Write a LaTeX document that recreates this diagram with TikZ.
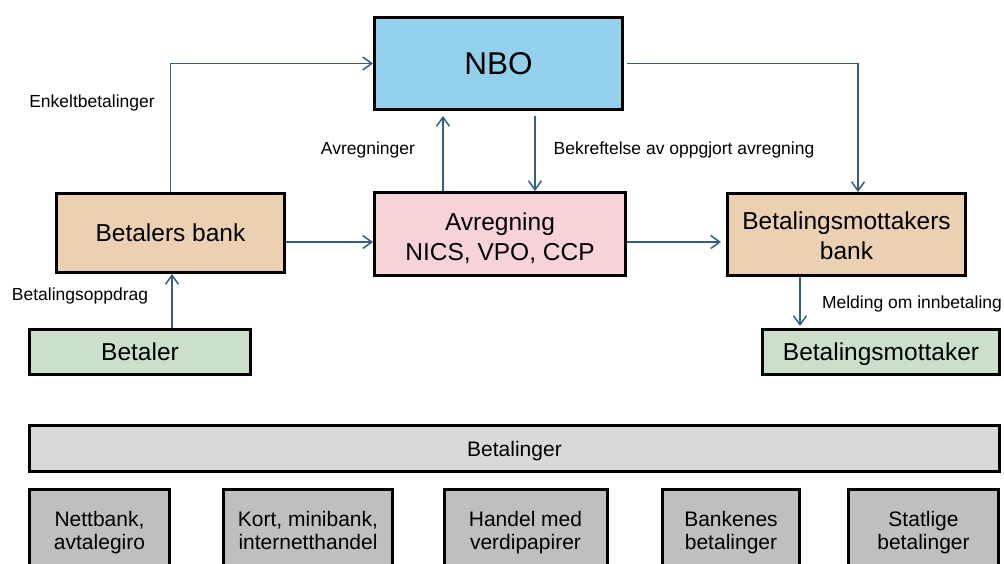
\documentclass[tikz,border=0pt]{standalone}
\usepackage{fontspec}
\setmainfont{Liberation Sans}
\usetikzlibrary{arrows.meta}
\definecolor{nboblue}{RGB}{146,208,236}
\definecolor{avrpink}{RGB}{246,211,215}
\definecolor{banktan}{RGB}{235,209,178}
\definecolor{partgreen}{RGB}{204,223,204}
\definecolor{barlight}{RGB}{217,217,217}
\definecolor{boxgray}{RGB}{191,191,191}
\definecolor{arrowblue}{RGB}{50,96,128}
\tikzset{
  box/.style={draw=black, line width=3pt, inner sep=0pt, align=center,
    font=\fontsize{24.5}{30}\selectfont},
  onebox/.style={box, text height=17.8pt, text depth=0pt},
  smallbox/.style={box, font=\fontsize{21}{23.5}\selectfont},
  catbox/.style={smallbox, fill=boxgray, minimum height=81pt,
    text height=39pt, text depth=0pt},
  arr/.style={draw=arrowblue, line width=1.5pt,
    -{Straight Barb[length=9pt,width=13pt,line width=1.5pt]}},
  lbl/.style={inner sep=0pt, anchor=base, font=\fontsize{17.5}{21}\selectfont}
}
\begin{document}
\begin{tikzpicture}[x=1pt,y=-1pt]
\useasboundingbox (0,0) rectangle (1004,563);
\clip (0,0) rectangle (1004,563);
% main boxes
\node[box, fill=nboblue, minimum width=248pt, minimum height=92pt,
  font=\fontsize{31.5}{36}\selectfont, text height=22.6pt, text depth=0pt] (nbo) at (498.5,63.5) {NBO};
\node[onebox, fill=banktan, minimum width=228pt, minimum height=79pt] (bb) at (170.5,233) {Betalers bank};
\node[box, fill=avrpink, minimum width=251pt, minimum height=83pt,
  text height=52pt, text depth=0pt] (avr) at (500,234) {Avregning\\NICS, VPO, CCP};
\node[box, fill=banktan, minimum width=238pt, minimum height=82pt,
  text height=49.6pt, text depth=0pt] (mb) at (846.5,234.5) {Betalingsmottakers\\bank};
\node[onebox, fill=partgreen, minimum width=221pt, minimum height=45pt] (bet) at (140,352) {Betaler};
\node[onebox, fill=partgreen, minimum width=237pt, minimum height=45pt] (bm) at (881,352) {Betalingsmottaker};
% bottom
\node[smallbox, fill=barlight, minimum width=970pt, minimum height=46pt,
  text height=17.4pt, text depth=0pt] (bar) at (514.5,448) {Betalinger};
\node[catbox, minimum width=140pt] (b1) at (99.5,530) {Nettbank,\\avtalegiro};
\node[catbox, minimum width=169pt] (b2) at (308,530) {Kort, minibank,\\internetthandel};
\node[catbox, minimum width=163pt] (b3) at (525.5,530) {Handel med\\verdipapirer};
\node[catbox, minimum width=137pt] (b4) at (731,530) {Bankenes\\betalinger};
\node[catbox, minimum width=150pt] (b5) at (923.5,530) {Statlige\\betalinger};
% helper coordinates
\coordinate (xa) at (443,0);
\coordinate (xb) at (535,0);
\coordinate (xc) at (858,0);
\coordinate (xd) at (172,0);
\coordinate (xe) at (800,0);
\coordinate (ya) at (0,242);
% connectors
\draw[arr] (bb.north) |- (nbo.west);
\draw[arr, shorten >=5pt] (avr.north -| xa) -- (nbo.south -| xa);
\draw[arr, shorten <=5pt] (nbo.south -| xb) -- (avr.north -| xb);
\draw[arr, shorten <=3pt] (nbo.east) -| (mb.north -| xc);
\draw[arr] (bb.east |- ya) -- (avr.west |- ya);
\draw[arr, shorten >=5pt] (avr.east |- ya) -- (mb.west |- ya);
\draw[arr] (bet.north -| xd) -- (bb.south -| xd);
\draw[arr, shorten >=2pt] (mb.south -| xe) -- (bm.north -| xe);
% labels
\node[lbl] (l1) at (92,107.7) {Enkeltbetalinger};
\node[lbl] (l2) at (368,154) {Avregninger};
\node[lbl] (l3) at (684,154) {Bekreftelse av oppgjort avregning};
\node[lbl] (l4) at (80,300.5) {Betalingsoppdrag};
\node[lbl] (l5) at (912,308) {Melding om innbetaling};
\end{tikzpicture}
\end{document}
